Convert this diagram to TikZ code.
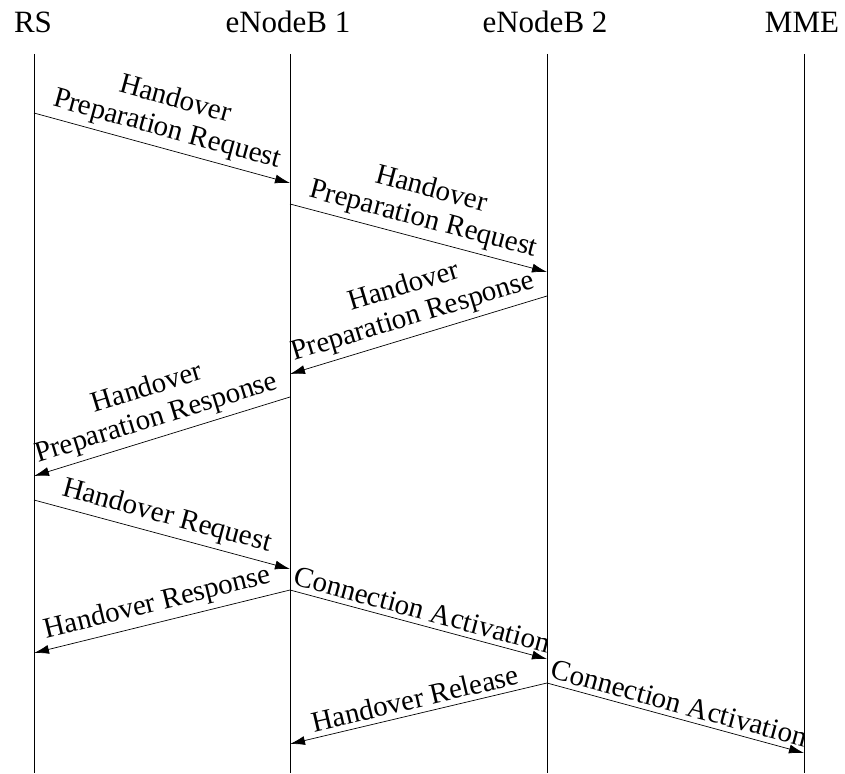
\documentclass[tikz,border=0pt]{standalone}
\usepackage{fontspec}
\setmainfont{Liberation Serif}
\usetikzlibrary{arrows.meta}
\begin{document}
\begin{tikzpicture}[x=1pt,y=-1pt,
  lifeline/.style={draw=black,line width=0.7pt},
  msg/.style={draw=black,line width=0.7pt,-{Latex[length=15pt,width=9pt]}},
  lbl/.style={font=\fontsize{29}{31}\selectfont,align=center,sloped,above=3pt,midway,inner sep=2pt},
  hdr/.style={font=\fontsize{31}{31}\selectfont,inner sep=0pt,anchor=base}]
\useasboundingbox (0,0) rectangle (845,773);
% headers
\node[hdr] (hRS) at (33,33) {RS};
\node[hdr] (hE1) at (288,33) {eNodeB 1};
\node[hdr] (hE2) at (545,33) {eNodeB 2};
\node[hdr] (hMME) at (802,33) {MME};
% lifeline ends
\coordinate (tRS) at (34,54);   \coordinate (bRS) at (34,773);
\coordinate (tE1) at (290,54);  \coordinate (bE1) at (290,773);
\coordinate (tE2) at (547,54);  \coordinate (bE2) at (547,773);
\coordinate (tM) at (804,54);   \coordinate (bM) at (804,773);
\draw[lifeline] (tRS) -- (bRS);
\draw[lifeline] (tE1) -- (bE1);
\draw[lifeline] (tE2) -- (bE2);
\draw[lifeline] (tM) -- (bM);
% message points
\coordinate (m1s) at (34,113);  \coordinate (m1e) at (290,183);
\coordinate (m2s) at (290,204); \coordinate (m2e) at (547,272);
\coordinate (m3s) at (547,296); \coordinate (m3e) at (290,374);
\coordinate (m4s) at (290,397); \coordinate (m4e) at (34,476);
\coordinate (m5s) at (34,500);  \coordinate (m5e) at (290,569);
\coordinate (m6s) at (290,590); \coordinate (m6e) at (34,653);
\coordinate (m7e) at (547,659);
\coordinate (m8s) at (547,683); \coordinate (m8e) at (290,744);
\coordinate (m9e) at (804,753);
\draw[msg] (m1s) -- node[lbl] {Handover\\Preparation Request} (m1e);
\draw[msg] (m2s) -- node[lbl] {Handover\\Preparation Request} (m2e);
\draw[msg] (m3s) -- node[lbl] {Handover\\Preparation Response} (m3e);
\draw[msg] (m4s) -- node[lbl] {Handover\\Preparation Response} (m4e);
\draw[msg] (m5s) -- node[lbl] {Handover Request} (m5e);
\draw[msg] (m6s) -- node[lbl] {Handover Response} (m6e);
\draw[msg] (m6s) -- node[lbl] {Connection Activation} (m7e);
\draw[msg] (m8s) -- node[lbl] {Handover Release} (m8e);
\draw[msg] (m8s) -- node[lbl] {Connection Activation} (m9e);
\end{tikzpicture}
\end{document}
